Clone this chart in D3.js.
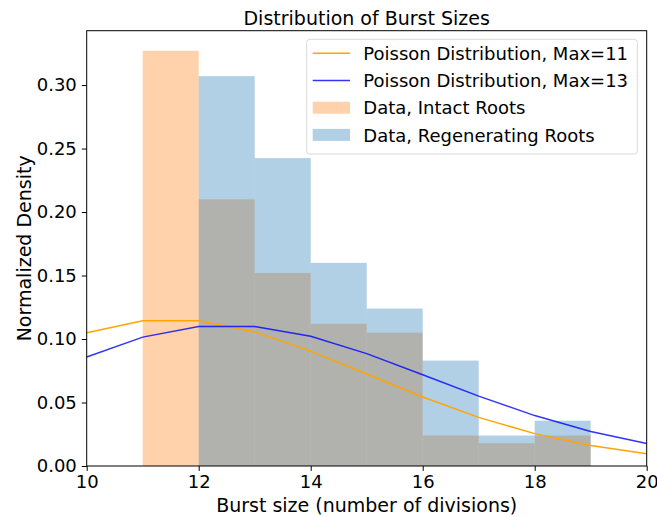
<!DOCTYPE html>
<html>
<head>
<meta charset="utf-8">
<script src="https://cdn.jsdelivr.net/npm/d3@7"></script>
<style>
  body { margin: 0; background: #fff; }
  svg { display: block; font-family: "DejaVu Sans", sans-serif; }
</style>
</head>
<body>
<div id="chart"></div>
<script>
// bin left edges (bins are 1 wide)
const intactBins = [11, 12, 13, 14, 15, 16, 17, 18];
const intactDensity = [0.327, 0.210, 0.152, 0.112, 0.105, 0.024, 0.018, 0.024];
const regenBins = [12, 13, 14, 15, 16, 17, 18];
const regenDensity = [0.307, 0.2425, 0.160, 0.124, 0.083, 0.024, 0.0357];

// Poisson curves read at integer burst sizes
const poissonX = [10, 11, 12, 13, 14, 15, 16, 17, 18, 19, 20];
const poisson11 = [0.105, 0.1144, 0.1144, 0.1056, 0.0905, 0.0724, 0.0543, 0.0383, 0.0255, 0.0161, 0.0097];
const poisson13 = [0.0859, 0.1015, 0.1099, 0.1099, 0.1021, 0.0885, 0.0719, 0.0550, 0.0397, 0.0272, 0.0177];

const xTicks = [10, 12, 14, 16, 18, 20];
const yTicks = [0, 0.05, 0.10, 0.15, 0.20, 0.25, 0.30];

const width = 657, height = 517;
const margin = { top: 30.7, right: 10.3, bottom: 51, left: 86.7 };
const iw = width - margin.left - margin.right;
const ih = height - margin.top - margin.bottom;

const x = d3.scaleLinear().domain([10, 20]).range([0, iw]);
const y = d3.scaleLinear().domain([0, 0.3428]).range([ih, 0]);

const svg = d3.select("#chart").append("svg")
    .attr("width", width)
    .attr("height", height);

const g = svg.append("g").attr("transform", `translate(${margin.left},${margin.top})`);

// orange histogram first, blue on top (both translucent)
g.append("g")
    .attr("fill", "#ff7f0e")
    .attr("fill-opacity", 0.35)
    .selectAll("rect")
    .data(intactBins)
    .join("rect")
    .attr("x", d => x(d))
    .attr("width", d => x(d + 1) - x(d))
    .attr("y", (d, i) => y(intactDensity[i]))
    .attr("height", (d, i) => y(0) - y(intactDensity[i]));

g.append("g")
    .attr("fill", "#1f77b4")
    .attr("fill-opacity", 0.35)
    .selectAll("rect")
    .data(regenBins)
    .join("rect")
    .attr("x", d => x(d))
    .attr("width", d => x(d + 1) - x(d))
    .attr("y", (d, i) => y(regenDensity[i]))
    .attr("height", (d, i) => y(0) - y(regenDensity[i]));

const line = d3.line().x(d => x(d[0])).y(d => y(d[1]));

g.append("path")
    .datum(d3.zip(poissonX, poisson11))
    .attr("fill", "none")
    .attr("stroke", "orange")
    .attr("stroke-width", 1.5)
    .attr("d", line);

g.append("path")
    .datum(d3.zip(poissonX, poisson13))
    .attr("fill", "none")
    .attr("stroke", "blue")
    .attr("stroke-opacity", 0.8)
    .attr("stroke-width", 1.5)
    .attr("d", line);

// axes
const xAxis = g.append("g")
    .attr("transform", `translate(0,${ih})`)
    .call(d3.axisBottom(x).tickValues(xTicks).tickFormat(d3.format("d")).tickSize(4.9).tickPadding(4));
const yAxis = g.append("g")
    .call(d3.axisLeft(y).tickValues(yTicks).tickFormat(d3.format(".2f")).tickSize(4.9).tickPadding(5));

[xAxis, yAxis].forEach(a => {
    a.selectAll("text").attr("font-size", 18).attr("font-family", "DejaVu Sans").attr("fill", "#000");
    a.selectAll("line").attr("stroke", "#000").attr("stroke-width", 1);
    a.select(".domain").remove();
});

// frame
g.append("rect")
    .attr("width", iw)
    .attr("height", ih)
    .attr("fill", "none")
    .attr("stroke", "#000")
    .attr("stroke-width", 1);

// labels
svg.append("text")
    .attr("x", margin.left + iw / 2)
    .attr("y", 24.5)
    .attr("text-anchor", "middle")
    .attr("font-size", 19)
    .text("Distribution of Burst Sizes");

svg.append("text")
    .attr("x", margin.left + iw / 2)
    .attr("y", 511.5)
    .attr("text-anchor", "middle")
    .attr("font-size", 19)
    .text("Burst size (number of divisions)");

svg.append("text")
    .attr("transform", `translate(31,${margin.top + ih / 2}) rotate(-90)`)
    .attr("text-anchor", "middle")
    .attr("font-size", 19)
    .text("Normalized Density");

// legend
const legendItems = [
    { label: "Poisson Distribution, Max=11", type: "line", color: "orange", op: 1 },
    { label: "Poisson Distribution, Max=13", type: "line", color: "blue", op: 0.8 },
    { label: "Data, Intact Roots", type: "patch", color: "#ff7f0e", op: 0.35 },
    { label: "Data, Regenerating Roots", type: "patch", color: "#1f77b4", op: 0.35 }
];

const legend = svg.append("g").attr("transform", "translate(306.7,39.3)");
legend.append("rect")
    .attr("width", 330.6)
    .attr("height", 114.7)
    .attr("rx", 3)
    .attr("fill", "#fff")
    .attr("fill-opacity", 0.8)
    .attr("stroke", "#d9d9d9")
    .attr("stroke-width", 1);

const row = legend.selectAll("g.item")
    .data(legendItems)
    .join("g")
    .attr("class", "item")
    .attr("transform", (d, i) => `translate(0,${14 + i * 27.2})`);

row.filter(d => d.type === "line").append("line")
    .attr("x1", 6).attr("x2", 43.3)
    .attr("stroke", d => d.color)
    .attr("stroke-opacity", d => d.op)
    .attr("stroke-width", 1.5);

row.filter(d => d.type === "patch").append("rect")
    .attr("x", 6).attr("y", -6)
    .attr("width", 37.3).attr("height", 12)
    .attr("fill", d => d.color)
    .attr("fill-opacity", d => d.op);

row.append("text")
    .attr("x", 56.6)
    .attr("y", 6.6)
    .attr("font-size", 18)
    .text(d => d.label);
</script>
</body>
</html>
